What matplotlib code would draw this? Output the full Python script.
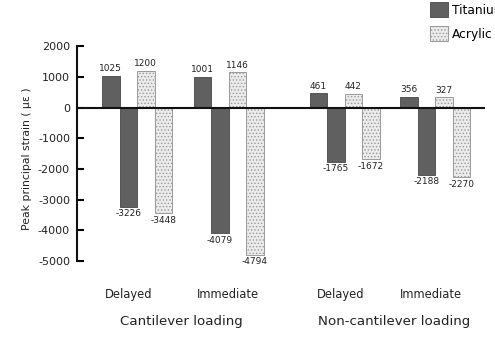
import matplotlib.pyplot as plt
import matplotlib.patches as patches
import matplotlib.transforms as transforms

# Data
conditions = ['Delayed', 'Immediate', 'Delayed', 'Immediate']
loading = ['Cantilever loading', 'Non-cantilever loading']
ti_pos = [1025, 1001, 461, 356]
ti_neg = [-3226, -4079, -1765, -2188]
ac_pos = [1200, 1146, 442, 327]
ac_neg = [-3448, -4794, -1672, -2270]

# Layout
centers = [3.43, 8.66, 15.29, 20.46]
w = 1.0
dark = '#606060'
light = '#ebebeb'

plt.rcParams['hatch.color'] = '#c0c0c0'
plt.rcParams['hatch.linewidth'] = 0.6
plt.rcParams['axes.unicode_minus'] = False

fig = plt.figure(figsize=(4.95, 3.39), dpi=100)
ax = fig.add_axes([0.1556, 0.230, 0.824, 0.634])

offsets = [-1.5, -0.5, 0.5, 1.5]
series = [(ti_pos, dark), (ti_neg, dark), (ac_pos, light), (ac_neg, light)]
for off, (vals, col) in zip(offsets, series):
    xs = [c + off * w for c in centers]
    if col == dark:
        ax.bar(xs, vals, width=w, color=dark, edgecolor='#474747', linewidth=0.6, zorder=2)
    else:
        ax.bar(xs, vals, width=w, color=light, edgecolor='#9a9a9a', linewidth=0.7,
               hatch='.....', zorder=2)
    for x, v in zip(xs, vals):
        if v > 0:
            ax.text(x, v + 90, str(v), ha='center', va='bottom', fontsize=6.5, color='#222222')
        else:
            ax.text(x, v - 90, str(v), ha='center', va='top', fontsize=6.5, color='#222222',
                    clip_on=False)

ax.axhline(0, color='#111111', lw=1.5, zorder=3)
ax.set_xlim(0, 23.3)
ax.set_ylim(-5000, 2000)
ax.set_yticks(range(-5000, 2001, 1000))
ax.tick_params(axis='y', direction='in', length=5, width=1.5, labelsize=8, pad=5,
               labelcolor='#222222')
ax.set_xticks([])
for s in ['top', 'right', 'bottom']:
    ax.spines[s].set_visible(False)
ax.spines['left'].set_linewidth(1.5)
ax.spines['left'].set_color('#111111')

trans = transforms.blended_transform_factory(ax.transData, fig.transFigure)
label_x = [2.97, 8.6, 15.07, 20.23]
for x, name in zip(label_x, conditions):
    ax.text(x, 0.13, name, transform=trans, ha='center', va='center', fontsize=8.3,
            color='#222222')

fig.text(181 / 495, 1 - 321 / 339, loading[0], ha='center', va='center', fontsize=9.6,
         color='#222222')
fig.text(394 / 495, 1 - 322 / 339, loading[1], ha='center', va='center', fontsize=9.6,
         color='#222222')

fig.text(0.055, 0.531, 'Peak principal strain ( \u03bc\u03b5 )', rotation=90, ha='center',
         va='center', fontsize=7.8, color='#222222')

handles = [patches.Patch(facecolor=dark, edgecolor='#474747', linewidth=0.6),
           patches.Patch(facecolor=light, edgecolor='#9a9a9a', linewidth=0.7, hatch='.....')]
fig.legend(handles, ['Titanium', 'Acrylic'], loc='upper left', bbox_to_anchor=(0.856, 1.012),
           frameon=False, fontsize=8.8, handlelength=1.5, handleheight=1.5,
           labelspacing=0.75, borderpad=0, handletextpad=0.3)

fig.savefig('out.png', dpi=100)
